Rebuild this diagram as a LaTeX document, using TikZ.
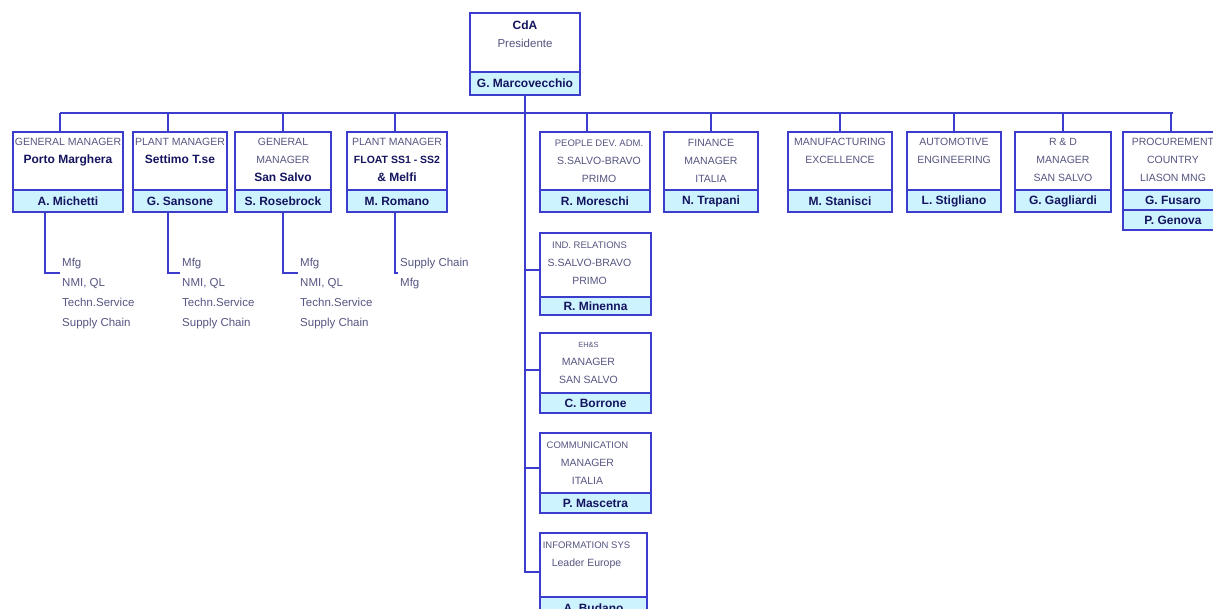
\documentclass[tikz,border=0pt]{standalone}
\usepackage{fontspec}
\setmainfont{Liberation Sans}
\usepackage{xcolor}
\usepackage{tikz}
\usetikzlibrary{positioning}

\definecolor{boxblue}{RGB}{60,60,205}
\definecolor{bandcyan}{RGB}{205,243,255}
\definecolor{titlegray}{RGB}{85,85,130}
\definecolor{namenavy}{RGB}{20,20,95}

\tikzset{
	tbox/.style={draw=boxblue,line width=2pt,fill=white,anchor=north west,inner sep=0pt,outer sep=0pt,minimum height=58pt},
	nbox/.style={draw=boxblue,line width=2pt,fill=bandcyan,anchor=north west,inner sep=0pt,outer sep=0pt,minimum height=22pt,text=namenavy,font=\fontsize{12}{14}\selectfont\bfseries},
	ttext/.style={align=center,inner sep=2pt,text=titlegray,font=\fontsize{10.5}{18}\selectfont},
	lst/.style={anchor=north west,align=left,inner sep=2pt,text=titlegray,font=\fontsize{11.5}{20}\selectfont},
	conn/.style={draw=boxblue,line width=2pt}
}
\newcommand{\hd}[1]{{\color{namenavy}\bfseries\fontsize{12}{18}\selectfont #1}}
\newcommand{\sm}[1]{{\fontsize{9.5}{18}\selectfont #1}}

\begin{document}
\begin{tikzpicture}[x=1pt,y=-1pt]
			\useasboundingbox (0,0) rectangle (1213,609);
			\clip (0,0) rectangle (1213,609);
			% 顶部
			\node[tbox,minimum width=110pt,minimum height=59pt] (ceo) at (470,13) {};
			\node[nbox,minimum width=110pt,minimum height=23pt] (ceon) at (ceo.south west) {G. Marcovecchio};
			\node[ttext,below=6pt of ceo.north] (ceot) {\hd{CdA}\\{\fontsize{11.5}{18}\selectfont Presidente}};
			% 第一行 左
			\node[tbox,minimum width=110pt] (pm) at (13,132) {};
			\node[nbox,minimum width=110pt] (pmn) at (pm.south west) {A. Michetti};
			\node[ttext,below=4pt of pm.north] (pmt) {GENERAL MANAGER\\\hd{Porto Marghera}};
			\node[tbox,minimum width=94pt] (st) at (133,132) {};
			\node[nbox,minimum width=94pt] (stn) at (st.south west) {G. Sansone};
			\node[ttext,below=4pt of st.north] (stt) {PLANT MANAGER\\\hd{Settimo T.se}};
			\node[tbox,minimum width=96pt] (ss) at (235,132) {};
			\node[nbox,minimum width=96pt] (ssn) at (ss.south west) {S. Rosebrock};
			\node[ttext,below=4pt of ss.north] (sst) {GENERAL\\MANAGER\\\hd{San Salvo}};
			\node[tbox,minimum width=100pt] (fm) at (347,132) {};
			\node[nbox,minimum width=100pt] (fmn) at (fm.south west) {M. Romano};
			\node[ttext,below=4pt of fm.north] (fmt) {PLANT MANAGER\\\hd{\fontsize{10.5}{18}\selectfont FLOAT SS1 - SS2}\\\hd{\& Melfi}};
			% 第一行 右
			\node[tbox,minimum width=110pt] (pd) at (540,132) {};
			\node[nbox,minimum width=110pt] (pdn) at (pd.south west) {R. Moreschi};
			\node[ttext,below=6pt of pd.north,xshift=4pt] (pdt) {\sm{PEOPLE DEV. ADM.}\\S.SALVO-BRAVO\\PRIMO};
			\node[tbox,minimum width=94pt] (fi) at (664,132) {};
			\node[nbox,minimum width=94pt] (fin) at (fi.south west) {N. Trapani};
			\node[ttext,below=5pt of fi.north] (fit) {FINANCE\\MANAGER\\ITALIA};
			\node[tbox,minimum width=104pt] (mx) at (788,132) {};
			\node[nbox,minimum width=104pt] (mxn) at (mx.south west) {M. Stanisci};
			\node[ttext,below=4pt of mx.north] (mxt) {MANUFACTURING\\EXCELLENCE};
			\node[tbox,minimum width=94pt] (ae) at (907,132) {};
			\node[nbox,minimum width=94pt] (aen) at (ae.south west) {L. Stigliano};
			\node[ttext,below=4pt of ae.north] (aet) {AUTOMOTIVE\\ENGINEERING};
			\node[tbox,minimum width=96pt] (rd) at (1015,132) {};
			\node[nbox,minimum width=96pt] (rdn) at (rd.south west) {G. Gagliardi};
			\node[ttext,below=4pt of rd.north] (rdt) {R \& D\\MANAGER\\SAN SALVO};
			\node[tbox,minimum width=100pt] (pr) at (1123,132) {};
			\node[nbox,minimum width=100pt,minimum height=20pt] (prn) at (pr.south west) {G. Fusaro};
			\node[nbox,minimum width=100pt,minimum height=20pt] (prm) at (prn.south west) {P. Genova};
			\node[ttext,below=4pt of pr.north] (prt) {PROCUREMENT\\COUNTRY\\LIASON MNG};
			% 中间一列
			\node[tbox,minimum width=111pt,minimum height=64pt] (ir) at (540,233) {};
			\node[nbox,minimum width=111pt,minimum height=18pt] (irn) at (ir.south west) {R. Minenna};
			\node[ttext,below=7pt of ir.north,xshift=-6pt] (irt) {\sm{IND. RELATIONS}\\S.SALVO-BRAVO\\PRIMO};
			\node[tbox,minimum width=111pt,minimum height=60pt] (eh) at (540,333) {};
			\node[nbox,minimum width=111pt,minimum height=20pt] (ehn) at (eh.south west) {C. Borrone};
			\node[ttext,below=7pt of eh.north,xshift=-7pt] (eht) {{\fontsize{7.5}{18}\selectfont EH\&S}\\MANAGER\\SAN SALVO};
			\node[tbox,minimum width=111pt,minimum height=60pt] (cm) at (540,433) {};
			\node[nbox,minimum width=111pt,minimum height=20pt] (cmn) at (cm.south west) {P. Mascetra};
			\node[ttext,below=7pt of cm.north,xshift=-8pt] (cmt) {\sm{COMMUNICATION}\\MANAGER\\ITALIA};
			\node[tbox,minimum width=107pt,minimum height=64pt] (is) at (540,533) {};
			\node[nbox,minimum width=107pt] (isn) at (is.south west) {A. Budano};
			\node[ttext,below=7pt of is.north,xshift=-7pt] (ist) {\sm{INFORMATION SYS}\\Leader Europe};
			% 下属职能
			\node[lst] (mpm) at (60,256) {Mfg\\NMI, QL\\Techn.Service\\Supply Chain};
			\node[lst] (mst) at (180,256) {Mfg\\NMI, QL\\Techn.Service\\Supply Chain};
			\node[lst] (mss) at (298,256) {Mfg\\NMI, QL\\Techn.Service\\Supply Chain};
			\node[lst] (mfm) at (398,256) {Supply Chain\\Mfg};
			% 连线
			\coordinate (bus) at (525,113);
			\draw[conn] (ceon.south) |- ([yshift=-7pt]is.west);
			\draw[conn] ([xshift=-8pt]pm.north |- bus) -- (pr.north |- bus);
			\draw[conn] ([xshift=-8pt]pm.north |- bus) -- ([xshift=-8pt]pm.north);
			\draw[conn] ([xshift=-12pt]st.north |- bus) -- ([xshift=-12pt]st.north);
			\draw[conn] (ss.north |- bus) -- (ss.north);
			\draw[conn] ([xshift=-2pt]fm.north |- bus) -- ([xshift=-2pt]fm.north);
			\draw[conn] ([xshift=-8pt]pd.north |- bus) -- ([xshift=-8pt]pd.north);
			\draw[conn] (fi.north |- bus) -- (fi.north);
			\draw[conn] (mx.north |- bus) -- (mx.north);
			\draw[conn] (ae.north |- bus) -- (ae.north);
			\draw[conn] (rd.north |- bus) -- (rd.north);
			\draw[conn] ([xshift=-2pt]pr.north |- bus) -- ([xshift=-2pt]pr.north);
			\draw[conn] ([yshift=-5pt]ir.west -| bus) -- ([yshift=-5pt]ir.west);
			\draw[conn] ([yshift=-7pt]eh.west -| bus) -- ([yshift=-7pt]eh.west);
			\draw[conn] ([yshift=-5pt]cm.west -| bus) -- ([yshift=-5pt]cm.west);
			\draw[conn] ([xshift=-23pt]pmn.south) |- ([yshift=-17pt]mpm.north west);
			\draw[conn] ([xshift=-12pt]stn.south) |- ([yshift=-17pt]mst.north west);
			\draw[conn] (ssn.south) |- ([yshift=-17pt]mss.north west);
			\draw[conn] ([xshift=-2pt]fmn.south) |- ([yshift=-17pt]mfm.north west);
		\end{tikzpicture}
\end{document}
